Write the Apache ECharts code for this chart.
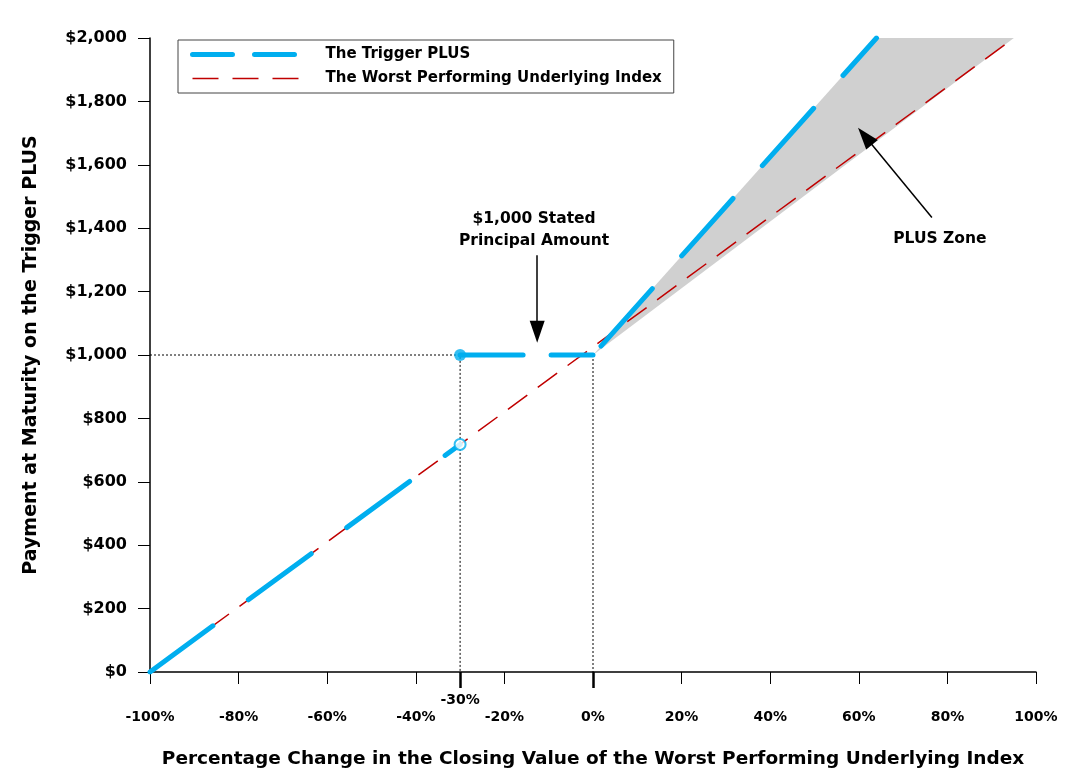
<!DOCTYPE html>
<html>
<head>
<meta charset="utf-8">
<script src="https://cdn.jsdelivr.net/npm/echarts@6.0.0/dist/echarts.min.js"></script>
<style>
  html, body { margin: 0; padding: 0; background: #fff; }
  #chart { width: 1069px; height: 778px; }
</style>
</head>
<body>
<div id="chart"></div>
<script>
// values
const indexX = [-100, 95]
const indexY = [0, 2000]
const plusLowX = [-100, -30]
const plusLowY = [0, 718]
const plusFlatX = [-30, 0]
const plusFlatY = [1000, 1000]
const plusHighX = [0, 64]
const plusHighY = [1000, 2000]
const zoneX = [0, 64, 95]
const zoneY = [1000, 2000, 2000]
const guideX = [-100, -30, -30, null, 0, 0]
const guideY = [1000, 1000, 0, null, 1000, 0]
const closedX = [-30], closedY = [1000]
const openX = [-30], openY = [718]
const markedTicks = [-30, 0]

const BLUE = '#00aeef'
const RED = '#c00000'
const FONT = '"DejaVu Sans", Verdana, sans-serif'

const pts = (xs, ys) => xs.map((x, i) => (x === null ? [null, null] : [x, ys[i]]))

const chart = echarts.init(document.getElementById('chart'))

const bold = (size, extra) => Object.assign({ fontFamily: FONT, fontWeight: 'bold', fontSize: size, color: '#000' }, extra || {})

const option = {
  animation: false,
  color: [BLUE, RED],
  textStyle: { fontFamily: FONT },
  grid: { left: 150, right: 33, top: 38, bottom: 106 },
  legend: {
    orient: 'vertical',
    left: 178,
    top: 40,
    padding: [7, 12, 7, 12],
    itemGap: 9,
    itemWidth: 106,
    itemHeight: 18,
    borderColor: '#444',
    borderWidth: 1,
    backgroundColor: '#fff',
    textStyle: bold(15, { padding: [0, 0, 0, 22] }),
    data: [
      {
        name: 'The Trigger PLUS',
        itemStyle: { opacity: 0 },
        lineStyle: { color: BLUE, width: 5, type: [40, 22], cap: 'round' }
      },
      {
        name: 'The Worst Performing Underlying Index',
        itemStyle: { opacity: 0 },
        lineStyle: { color: RED, width: 1.5, type: [26, 14] }
      }
    ]
  },
  xAxis: [
    {
      type: 'value',
      min: -100,
      max: 100,
      interval: 20,
      name: 'Percentage Change in the Closing Value of the Worst Performing Underlying Index',
      nameLocation: 'middle',
      nameGap: 78,
      nameTextStyle: bold(18.5),
      axisLine: { onZero: false, lineStyle: { color: '#000', width: 1.5 } },
      axisTick: { length: 12, lineStyle: { color: '#000', width: 1 } },
      axisLabel: bold(14, { margin: 38, formatter: '{value}%' }),
      splitLine: { show: false }
    },
    {
      type: 'value',
      min: -100,
      max: 100,
      position: 'bottom',
      axisLine: { show: false, onZero: false },
      axisTick: { customValues: markedTicks, length: 16, lineStyle: { color: '#000', width: 2.5 } },
      axisLabel: bold(14, { customValues: [-30], margin: 21, formatter: '{value}%' }),
      splitLine: { show: false }
    }
  ],
  yAxis: {
    type: 'value',
    min: 0,
    max: 2000,
    interval: 200,
    name: 'Payment at Maturity on the Trigger PLUS',
    nameLocation: 'middle',
    nameGap: 109,
    nameTextStyle: bold(19),
    axisLine: { show: true, onZero: false, lineStyle: { color: '#000', width: 1.5 } },
    axisTick: { show: true, length: 12, lineStyle: { color: '#000', width: 1 } },
    axisLabel: bold(16, { margin: 23, formatter: v => '$' + v.toLocaleString('en-US') }),
    splitLine: { show: false }
  },
  series: [
    {
      name: 'zone',
      type: 'custom',
      silent: true,
      z: 1,
      data: pts(zoneX, zoneY),
      renderItem: (params, api) => {
        if (params.dataIndex !== 0) return null
        return {
          type: 'polygon',
          shape: { points: zoneX.map((x, i) => api.coord([x, zoneY[i]])) },
          style: { fill: '#d0d0d0' }
        }
      }
    },
    {
      name: 'guides',
      type: 'line',
      silent: true,
      z: 2,
      symbol: 'none',
      connectNulls: false,
      data: pts(guideX, guideY),
      lineStyle: { color: '#000', width: 1, type: [2, 2] },
      markLine: {
        silent: true,
        symbol: ['none', 'triangle'],
        symbolSize: [15, 22],
        label: { show: false },
        lineStyle: { color: '#000', width: 1.5, type: 'solid' },
        itemStyle: { color: '#000' },
        data: [
          [{ coord: [-12.6, 1315] }, { coord: [-12.6, 1073] }],
          [{ coord: [76.5, 1434] }, { coord: [61.4, 1690] }]
        ]
      },
      markPoint: {
        silent: true,
        symbol: 'circle',
        symbolSize: 1,
        itemStyle: { color: 'transparent' },
        label: bold(15.5, {
          show: true,
          position: 'inside',
          lineHeight: 22,
          align: 'center',
          formatter: p => p.name
        }),
        data: [
          { name: '$1,000 Stated\nPrincipal Amount', coord: [-13.3, 1393] },
          { name: 'PLUS Zone', coord: [78.3, 1365] }
        ]
      }
    },
    {
      name: 'The Worst Performing Underlying Index',
      type: 'line',
      z: 3,
      symbol: 'none',
      color: RED,
      data: pts(indexX, indexY),
      lineStyle: { color: RED, width: 1.5, type: [24, 13] }
    },
    {
      name: 'The Trigger PLUS',
      type: 'line',
      z: 4,
      symbol: 'none',
      color: BLUE,
      data: pts(plusLowX, plusLowY),
      lineStyle: { color: BLUE, width: 5, type: [78, 44], cap: 'round' }
    },
    {
      name: 'plus-flat',
      type: 'line',
      z: 4,
      symbol: 'none',
      color: BLUE,
      data: pts(plusFlatX, plusFlatY),
      lineStyle: { color: BLUE, width: 5, type: [63, 28], cap: 'round' }
    },
    {
      name: 'plus-high',
      type: 'line',
      z: 4,
      symbol: 'none',
      color: BLUE,
      data: pts(plusHighX, plusHighY),
      lineStyle: { color: BLUE, width: 5, type: [77, 44], dashOffset: 109, cap: 'round' }
    },
    {
      name: 'closed',
      type: 'scatter',
      z: 5,
      symbol: 'circle',
      symbolSize: 12,
      data: pts(closedX, closedY),
      itemStyle: { color: BLUE }
    },
    {
      name: 'open',
      type: 'scatter',
      z: 5,
      symbol: 'circle',
      symbolSize: 11,
      data: pts(openX, openY),
      itemStyle: { color: '#fff', borderColor: BLUE, borderWidth: 2 }
    }
  ]
}

chart.setOption(option)
window.addEventListener('resize', () => chart.resize())
</script>
</body>
</html>
